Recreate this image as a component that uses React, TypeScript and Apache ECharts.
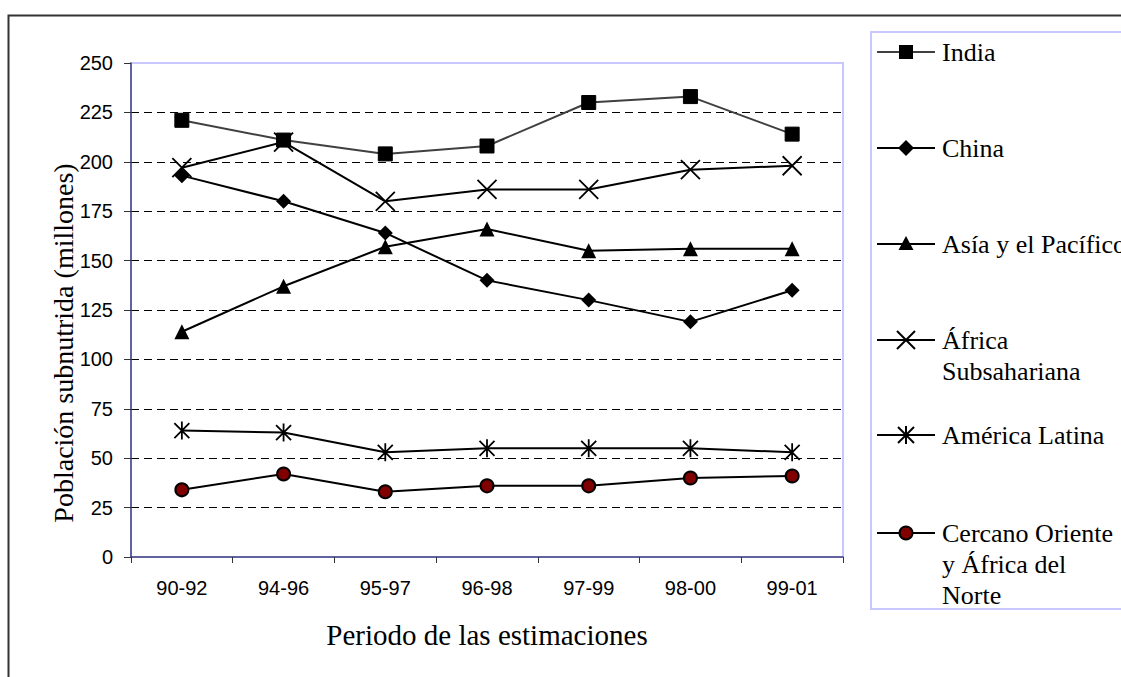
import React, { useEffect, useRef } from "react";
import * as echarts from "echarts";

const categories = ["90-92", "94-96", "95-97", "96-98", "97-99", "98-00", "99-01"];
const india = [221, 211, 204, 208, 230, 233, 214];
const china = [193, 180, 164, 140, 130, 119, 135];
const asiaPacifico = [114, 137, 157, 166, 155, 156, 156];
const africaSub = [197, 210, 180, 186, 186, 196, 198];
const americaLatina = [64, 63, 53, 55, 55, 55, 53];
const cercanoOriente = [34, 42, 33, 36, 36, 40, 41];

const seriesNames = [
  "India",
  "China",
  "Asía y el Pacífico",
  "África Subsahariana",
  "América Latina",
  "Cercano Oriente y África del Norte",
];
const legendLabels = [
  "India",
  "China",
  "Asía y el Pacífico",
  "África\nSubsahariana",
  "América Latina",
  "Cercano Oriente\ny África del\nNorte",
];
const yTicks = [0, 25, 50, 75, 100, 125, 150, 175, 200, 225, 250];
const xTitle = "Periodo de las estimaciones";
const yTitle = "Población subnutrida (millones)";

const X_PATH = "path://M0 0L10 10M10 0L0 10";
const AST_PATH = "path://M0 0L10 10M10 0L0 10M5 -1L5 11";

export default function App() {
  const ref = useRef<HTMLDivElement>(null);

  useEffect(() => {
    if (!ref.current) return;
    const chart = echarts.init(ref.current, null, { renderer: "svg" });

    const serif = "'Liberation Serif', 'Times New Roman', serif";
    const sans = "'Liberation Sans', Arial, sans-serif";

    const lineBase = (name: string, data: number[], extra: any) => ({
      type: "line",
      name,
      data,
      showSymbol: true,
      symbolKeepAspect: true,
      ...extra,
    });

    const series = [
      lineBase(seriesNames[0], india, {
        symbol: "rect",
        symbolSize: 14,
        lineStyle: { color: "#404040", width: 2 },
        itemStyle: { color: "#000", borderColor: "#000", borderWidth: 1 },
      }),
      lineBase(seriesNames[1], china, {
        symbol: "diamond",
        symbolSize: 15,
        lineStyle: { color: "#000", width: 2 },
        itemStyle: { color: "#000", borderColor: "#000", borderWidth: 0 },
      }),
      lineBase(seriesNames[2], asiaPacifico, {
        symbol: "triangle",
        symbolSize: 15,
        lineStyle: { color: "#000", width: 2 },
        itemStyle: { color: "#000", borderColor: "#000", borderWidth: 0 },
      }),
      lineBase(seriesNames[3], africaSub, {
        symbol: X_PATH,
        symbolSize: 19,
        lineStyle: { color: "#000", width: 2 },
        itemStyle: { color: "#000", borderColor: "#000", borderWidth: 1.8 },
      }),
      lineBase(seriesNames[4], americaLatina, {
        symbol: AST_PATH,
        symbolSize: 18,
        lineStyle: { color: "#000", width: 2 },
        itemStyle: { color: "#000", borderColor: "#000", borderWidth: 1.8 },
      }),
      lineBase(seriesNames[5], cercanoOriente, {
        symbol: "circle",
        symbolSize: 13,
        lineStyle: { color: "#000", width: 2 },
        itemStyle: { color: "#800000", borderColor: "#000", borderWidth: 2 },
      }),
    ];

    // Legend drawn with graphic elements
    const legendY = [52, 148, 244, 340, 435, 533];
    const lineColors = ["#404040", "#000", "#000", "#000", "#000", "#000"];
    const mx = 906;
    const legendEls: any[] = [];
    const ln = (x1: number, y1: number, x2: number, y2: number) => ({
      type: "line",
      shape: { x1, y1, x2, y2 },
      style: { stroke: "#000", lineWidth: 2 },
      z: 11,
    });
    legendY.forEach((cy, i) => {
      legendEls.push({
        type: "line",
        shape: { x1: 877, y1: cy, x2: 935, y2: cy },
        style: { stroke: lineColors[i], lineWidth: 2 },
        z: 10,
      });
      if (i === 0) {
        legendEls.push({ type: "rect", z: 11, shape: { x: mx - 7, y: cy - 7, width: 14, height: 14 }, style: { fill: "#000" } });
      } else if (i === 1) {
        legendEls.push({ type: "polygon", z: 11, shape: { points: [[mx, cy - 8], [mx + 8, cy], [mx, cy + 8], [mx - 8, cy]] }, style: { fill: "#000" } });
      } else if (i === 2) {
        legendEls.push({ type: "polygon", z: 11, shape: { points: [[mx, cy - 8], [mx + 7.5, cy + 6], [mx - 7.5, cy + 6]] }, style: { fill: "#000" } });
      } else if (i === 3) {
        legendEls.push(ln(mx - 9, cy - 9, mx + 9, cy + 9));
        legendEls.push(ln(mx + 9, cy - 9, mx - 9, cy + 9));
      } else if (i === 4) {
        legendEls.push(ln(mx - 8, cy - 8, mx + 8, cy + 8));
        legendEls.push(ln(mx + 8, cy - 8, mx - 8, cy + 8));
        legendEls.push(ln(mx, cy - 9, mx, cy + 9));
      } else {
        legendEls.push({ type: "circle", z: 11, shape: { cx: mx, cy, r: 6.5 }, style: { fill: "#800000", stroke: "#000", lineWidth: 2 } });
      }
      legendEls.push({
        type: "text",
        x: 942,
        y: cy - 15.5,
        z: 11,
        style: {
          text: legendLabels[i],
          fontFamily: serif,
          fontSize: 26,
          lineHeight: 31,
          fill: "#000",
          align: "left",
          verticalAlign: "top",
        },
      });
    });

    chart.setOption({
      animation: false,
      backgroundColor: "#fff",
      grid: {
        left: 131,
        top: 63,
        width: 712,
        height: 494,
        show: true,
        borderColor: "#c8c8ff",
        borderWidth: 2,
        backgroundColor: "transparent",
        containLabel: false,
      },
      xAxis: {
        type: "category",
        data: categories,
        boundaryGap: true,
        axisLine: { show: true, lineStyle: { color: "#404080", width: 1.5 } },
        axisTick: { show: true, length: 6, alignWithLabel: false, lineStyle: { color: "#333", width: 1 } },
        axisLabel: { fontFamily: sans, fontSize: 20, color: "#000", margin: 21 },
        splitLine: { show: false },
      },
      yAxis: {
        type: "value",
        min: yTicks[0],
        max: yTicks[yTicks.length - 1],
        interval: 25,
        axisLine: { show: true, lineStyle: { color: "#404080", width: 1.5 } },
        axisTick: { show: true, length: 7, inside: false, lineStyle: { color: "#333", width: 1 } },
        axisLabel: { fontFamily: sans, fontSize: 20, color: "#000", margin: 18 },
        splitLine: {
          show: true,
          showMinLine: false,
          showMaxLine: false,
          lineStyle: { color: "#000", width: 1, type: [8, 5] },
        },
      },
      series,
      graphic: [
        {
          type: "rect",
          shape: { x: 8.5, y: 15.5, width: 1200, height: 800 },
          style: { fill: "none", stroke: "#333", lineWidth: 2 },
          z: -10,
          silent: true,
        },
        {
          type: "rect",
          shape: { x: 871, y: 32, width: 300, height: 577 },
          style: { fill: "#fff", stroke: "#c8c8ff", lineWidth: 2 },
          z: 5,
          silent: true,
        },
        ...legendEls,
        {
          type: "text",
          x: 487,
          y: 635,
          style: {
            text: xTitle,
            fontFamily: serif,
            fontSize: 29,
            fill: "#000",
            align: "center",
            verticalAlign: "middle",
          },
        },
        {
          type: "text",
          x: 63,
          y: 343,
          rotation: Math.PI / 2,
          style: {
            text: yTitle,
            fontFamily: serif,
            fontSize: 28,
            fill: "#000",
            align: "center",
            verticalAlign: "middle",
          },
        },
      ],
    });

    return () => chart.dispose();
  }, []);

  return (
    <div
      ref={ref}
      style={{ position: "absolute", left: 0, top: 0, width: 1121, height: 677 }}
    />
  );
}
